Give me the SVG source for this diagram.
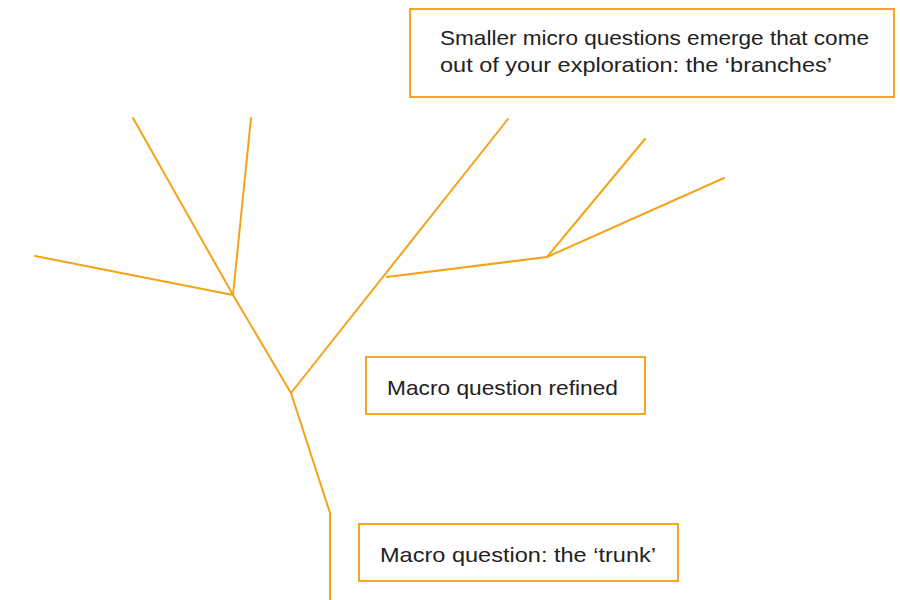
<svg xmlns="http://www.w3.org/2000/svg" width="900" height="600" viewBox="0 0 900 600">
<style>
.box{fill:#fff;stroke:#F5A623;stroke-width:2}
.lbl{font-family:"Liberation Sans",Arial,sans-serif;font-size:21px;fill:#222}
.br{fill:none;stroke:#F5A316;stroke-width:2;stroke-linejoin:round;stroke-linecap:round}
</style>
<rect width="900" height="600" fill="#fff"/>
<g id="connectors">
<polyline class="br" points="330,600 330,513 291,393 233,295 133,118"/>
<line class="br" x1="233" y1="295" x2="251" y2="118"/>
<line class="br" x1="233" y1="295" x2="35" y2="256"/>
<line class="br" x1="291" y1="393" x2="508" y2="119"/>
<polyline class="br" points="387,277 547,257 645,139"/>
<line class="br" x1="547" y1="257" x2="724" y2="178"/>
</g>
<g id="branches">
<rect class="box" x="410" y="9" width="484" height="88"/>
<text class="lbl" x="440" y="45" textLength="429" lengthAdjust="spacingAndGlyphs">Smaller micro questions emerge that come</text>
<text class="lbl" x="440" y="72" textLength="392" lengthAdjust="spacingAndGlyphs">out of your exploration: the ‘branches’</text>
</g>
<g id="refined">
<rect class="box" x="366" y="357" width="279" height="57"/>
<text class="lbl" x="387" y="395" textLength="231" lengthAdjust="spacingAndGlyphs">Macro question refined</text>
</g>
<g id="trunk">
<rect class="box" x="359" y="524" width="319" height="57"/>
<text class="lbl" x="380" y="562" textLength="276" lengthAdjust="spacingAndGlyphs">Macro question: the ‘trunk’</text>
</g>
</svg>
